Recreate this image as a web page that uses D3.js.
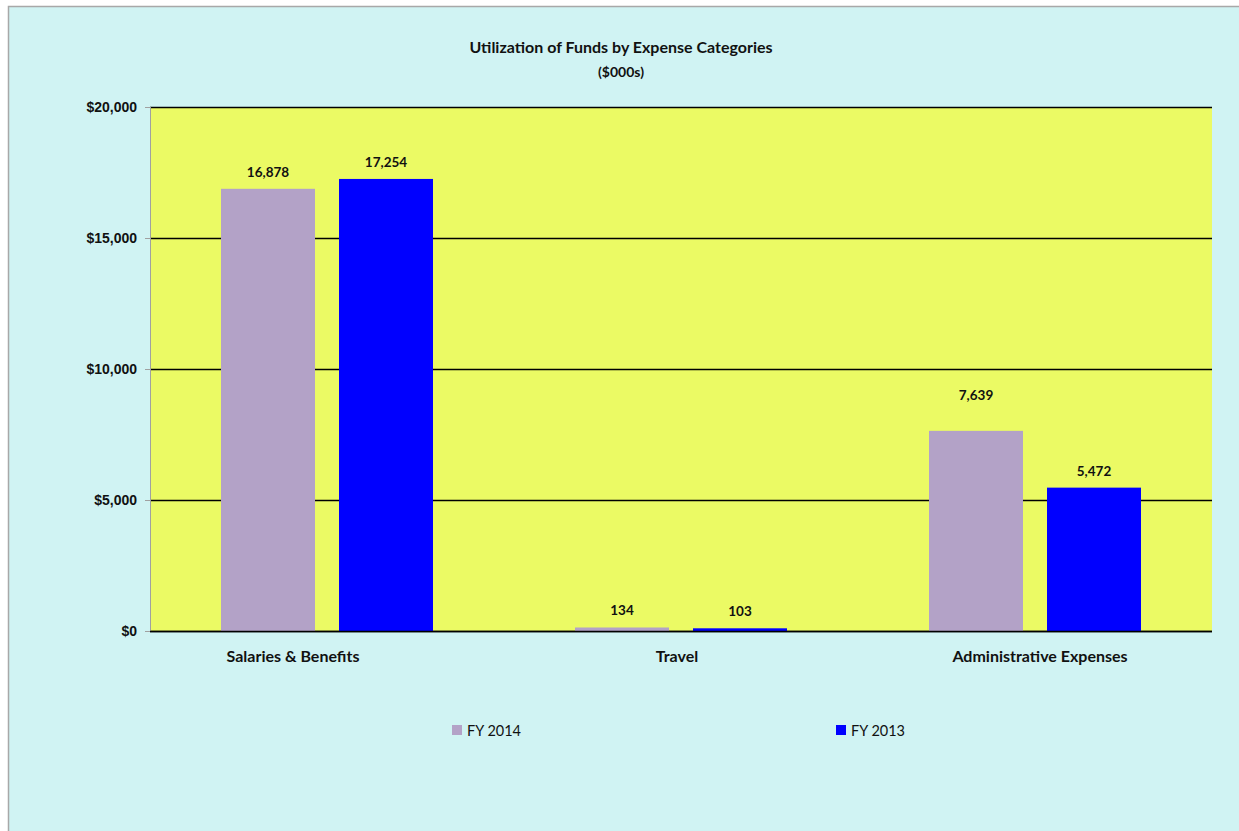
<!DOCTYPE html>
<html><head><meta charset="utf-8">
<script src="https://cdn.jsdelivr.net/npm/d3@7"></script>
<style>
html,body{margin:0;padding:0;background:#fff;}
svg{display:block;font-family:Lato,"Open Sans",sans-serif;}
</style></head>
<body>
<svg id="chart" width="1239" height="831"></svg>
<script>
const categories = ["Salaries & Benefits", "Travel", "Administrative Expenses"];
const seriesNames = ["FY 2014", "FY 2013"];
const fy2014 = [16878, 134, 7639];
const fy2013 = [17254, 103, 5472];
const yTicks = [0, 5000, 10000, 15000, 20000];
const titleLines = ["Utilization of Funds by Expense Categories", "($000s)"];

const colors = {"FY 2014": "#B3A2C7", "FY 2013": "#0000FF"};
const svg = d3.select("#chart");

// frame
svg.append("rect").attr("x", 8.5).attr("y", 6.5).attr("width", 1240).attr("height", 840)
  .attr("fill", "#D0F3F3").attr("stroke", "#A8A8A8").attr("stroke-width", 1.5);

const plot = {left: 150, right: 1212, top: 107, bottom: 631};
const x0 = d3.scaleBand().domain(categories).range([plot.left, plot.right]).paddingInner(0).paddingOuter(0);
const x1 = d3.scaleBand().domain(seriesNames).range([71, 71 + 212]).paddingInner(24 / 118).paddingOuter(0);
const y = d3.scaleLinear().domain([0, 20000]).range([plot.bottom, plot.top]);

svg.append("rect").attr("x", plot.left).attr("y", plot.top)
  .attr("width", plot.right - plot.left).attr("height", plot.bottom - plot.top).attr("fill", "#EBFA64");

// gridlines
svg.append("g").selectAll("line").data(yTicks).join("line")
  .attr("x1", plot.left).attr("x2", plot.right)
  .attr("y1", d => Math.round(y(d)) + 0.5).attr("y2", d => Math.round(y(d)) + 0.5)
  .attr("stroke", "#000").attr("stroke-width", 1.5);

// y axis
const yAxis = d3.axisLeft(y).tickValues(yTicks).tickSize(5).tickPadding(8)
  .tickFormat(d => "$" + d3.format(",")(d));
const yg = svg.append("g").attr("transform", `translate(${plot.left},0)`).call(yAxis);
yg.select(".domain").attr("stroke", "#A0A0A0").attr("d", `M0.5,${plot.top}V${plot.bottom}`);
yg.selectAll(".tick line").attr("stroke", "#A0A0A0");
yg.selectAll(".tick text").attr("font-size", 14).attr("font-weight", "bold").attr("fill", "#111");

// bars
const data = categories.map((c, i) => ({cat: c, vals: [
  {s: "FY 2014", v: fy2014[i]}, {s: "FY 2013", v: fy2013[i]}]}));
const labelNudge = {"Administrative Expenses|FY 2014": -19};

const groups = svg.append("g").selectAll("g").data(data).join("g")
  .attr("transform", d => `translate(${x0(d.cat)},0)`);
groups.selectAll("rect").data(d => d.vals).join("rect")
  .attr("x", d => x1(d.s)).attr("width", x1.bandwidth())
  .attr("y", d => y(d.v)).attr("height", d => plot.bottom - y(d.v))
  .attr("fill", d => colors[d.s]);
groups.selectAll("text").data(d => d.vals.map(v => ({...v, cat: d.cat}))).join("text")
  .attr("x", d => x1(d.s) + x1.bandwidth() / 2)
  .attr("y", d => y(d.v) - 12 + (labelNudge[d.cat + "|" + d.s] || 0))
  .attr("text-anchor", "middle").attr("font-size", 13.5).attr("font-weight", "bold").attr("fill", "#111")
  .text(d => d3.format(",")(d.v));

// zero line on top
svg.append("line").attr("x1", plot.left).attr("x2", plot.right)
  .attr("y1", y(0) + 0.5).attr("y2", y(0) + 0.5).attr("stroke", "#000").attr("stroke-width", 1.5);

// category axis labels
const catNudge = {"Salaries & Benefits": -34, "Travel": -4, "Administrative Expenses": 5};
svg.append("g").selectAll("text").data(categories).join("text")
  .attr("x", d => x0(d) + x0.bandwidth() / 2 + catNudge[d]).attr("y", 662)
  .attr("text-anchor", "middle").attr("font-size", 16).attr("font-weight", "bold").attr("fill", "#111")
  .text(d => d);

// title
svg.append("g").selectAll("text").data(titleLines).join("text")
  .attr("x", 621).attr("y", (d, i) => 53 + i * 24)
  .attr("text-anchor", "middle").attr("font-size", (d, i) => i === 0 ? 16 : 14)
  .attr("font-weight", "bold").attr("fill", "#111").text(d => d);

// legend
const legendX = [452, 836];
const lg = svg.append("g").selectAll("g").data(seriesNames).join("g")
  .attr("transform", (d, i) => `translate(${legendX[i]},725)`);
lg.append("rect").attr("width", 10).attr("height", 10).attr("fill", d => colors[d]);
lg.append("text").attr("x", 15).attr("y", 11).attr("font-size", 14.5).attr("fill", "#111").text(d => d);
</script>
</body></html>
